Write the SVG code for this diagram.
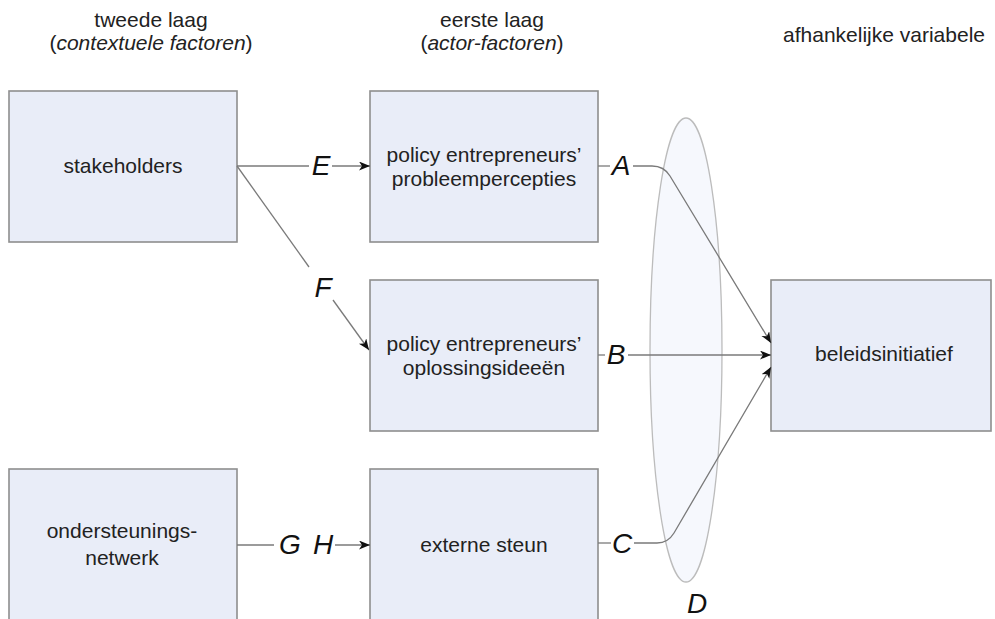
<svg xmlns="http://www.w3.org/2000/svg" width="995" height="619" viewBox="0 0 995 619">
  <defs>
    <style>
      text { font-family: "Liberation Sans", Arial, sans-serif; fill: #222; }
      .hdr { font-size: 21px; text-anchor: middle; }
      .lbl { font-size: 21px; text-anchor: middle; }
      .key { font-size: 28px; font-style: italic; text-anchor: middle; fill: #111; }
      .box { fill: #e9edf8; stroke: #8e8e8e; stroke-width: 1.6; }
      .link { fill: none; stroke: #7a7a7a; stroke-width: 1.3; }
      .arrow { marker-end: url(#head); }
    </style>
    <marker id="head" markerUnits="userSpaceOnUse" markerWidth="12" markerHeight="10" refX="11" refY="4.5" orient="auto">
      <path d="M0,0 L11,4.5 L0,9 L3,4.5 z" fill="#111"/>
    </marker>
  </defs>

  <rect width="995" height="619" fill="#ffffff"/>

  <!-- column headings -->
  <g id="headings">
    <text class="hdr" x="151" y="27">tweede laag</text>
    <text class="hdr" x="151" y="50">(<tspan font-style="italic">contextuele factoren</tspan>)</text>
    <text class="hdr" x="492" y="27">eerste laag</text>
    <text class="hdr" x="492" y="50">(<tspan font-style="italic">actor-factoren</tspan>)</text>
    <text class="hdr" x="884" y="42">afhankelijke variabele</text>
  </g>

  <!-- interaction zone D -->
  <g id="zone-d">
    <ellipse cx="686" cy="350" rx="36" ry="232" fill="#f6f8fd" stroke="#bcbcbc" stroke-width="1.3"/>
    <text class="key" x="697" y="613">D</text>
  </g>

  <g id="stakeholders">
    <rect class="box" x="9" y="91" width="228" height="151"/>
    <text class="lbl" x="123" y="173">stakeholders</text>
  </g>

  <g id="probleempercepties">
    <rect class="box" x="370" y="91" width="228" height="151"/>
    <text class="lbl" x="484" y="162">policy entrepreneurs’</text>
    <text class="lbl" x="484" y="186">probleempercepties</text>
  </g>

  <g id="oplossingsideeen">
    <rect class="box" x="370" y="280" width="228" height="151"/>
    <text class="lbl" x="484" y="351">policy entrepreneurs’</text>
    <text class="lbl" x="484" y="375">oplossingsideeën</text>
  </g>

  <g id="ondersteuningsnetwerk">
    <rect class="box" x="9" y="469" width="228" height="160"/>
    <text class="lbl" x="122" y="538">ondersteunings-</text>
    <text class="lbl" x="122" y="565">netwerk</text>
  </g>

  <g id="externe-steun">
    <rect class="box" x="370" y="469" width="228" height="160"/>
    <text class="lbl" x="484" y="552">externe steun</text>
  </g>

  <g id="beleidsinitiatief">
    <rect class="box" x="771" y="280" width="220" height="151"/>
    <text class="lbl" x="884" y="361">beleidsinitiatief</text>
  </g>

  <!-- connectors, broken where the letter keys sit -->
  <g id="connectors">
    <path class="link" d="M237,166 H309"/>
    <path class="link arrow" d="M332,166 H370"/>
    <path class="link" d="M237,166 L309,267"/>
    <path class="link arrow" d="M333,300 L369,350"/>
    <path class="link" d="M237,545 H274"/>
    <path class="link arrow" d="M335,545 H370"/>
    <path class="link" d="M598,166 H610"/>
    <path class="link arrow" d="M633,166 H652 Q664,166 670,176 L771,343"/>
    <path class="link" d="M598,355 H605"/>
    <path class="link arrow" d="M628,355 H771"/>
    <path class="link" d="M598,543 H611"/>
    <path class="link arrow" d="M634,543 H657 Q668,543 674,533 L771,367"/>
  </g>

  <g id="keys">
    <text class="key" x="321" y="175">E</text>
    <text class="key" x="323" y="297">F</text>
    <text class="key" x="290" y="554">G</text>
    <text class="key" x="323" y="554">H</text>
    <text class="key" x="621" y="175">A</text>
    <text class="key" x="616" y="364">B</text>
    <text class="key" x="622" y="553">C</text>
  </g>
</svg>
